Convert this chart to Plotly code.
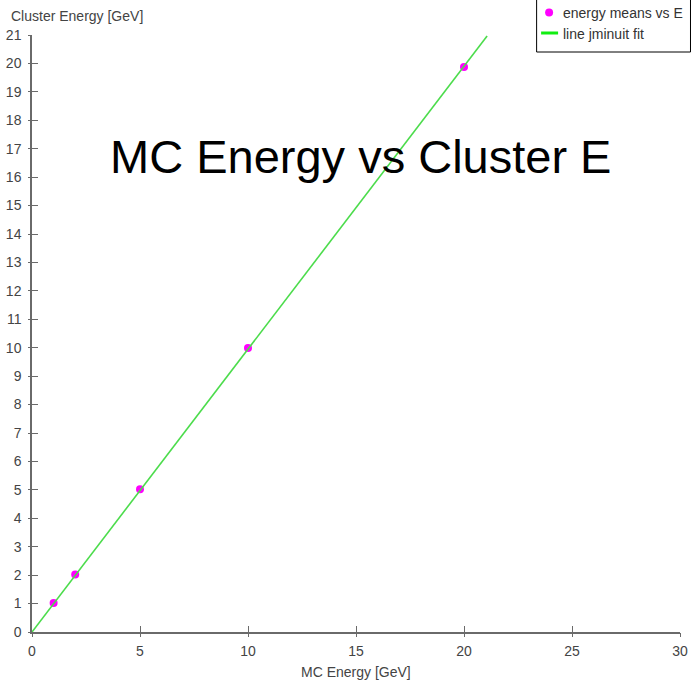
import plotly.graph_objects as go

# Mean reconstructed cluster energy at each generated MC energy
mc_energy = [1, 2, 5, 10, 20]
cluster_mean = [1.02, 2.02, 5.02, 9.99, 19.87]

# Straight-line fit result (jminuit)
fit_intercept = 0.0
fit_slope = 0.995
fit_x = [0.0, 21.07]
fit_y = [fit_intercept + fit_slope * x for x in fit_x]

x_ticks = [0, 5, 10, 15, 20, 25, 30]
y_ticks = list(range(0, 22))

series_names = ["energy means vs E", "line jminuit fit"]

W, H = 692, 685
M_L, M_R, M_T, M_B = 31.5, 12, 35, 53
PLOT_W = W - M_L - M_R
PLOT_H = H - M_T - M_B


def fx(px):
    """Page pixel column -> paper x."""
    return (px - M_L) / PLOT_W


def fy(py):
    """Page pixel row -> paper y."""
    return (H - M_B - py) / PLOT_H


axis_grey = "#6a6a6a"
label_grey = "#444444"
point_colour = "#ff00ff"
fit_colour = "#4cdc4c"
font_family = "Liberation Sans, Arial, sans-serif"

fig = go.Figure()
fig.add_trace(go.Scatter(
    x=mc_energy, y=cluster_mean, mode="markers", name=series_names[0],
    marker=dict(color=point_colour, size=8), showlegend=False,
))
# fit line drawn over the points
fig.add_trace(go.Scatter(
    x=fit_x, y=fit_y, mode="lines", name=series_names[1],
    line=dict(color=fit_colour, width=1.6), showlegend=False,
))
# empty trace on overlaid axes: draws the outer half of the tick marks
fig.add_trace(go.Scatter(x=[None], y=[None], xaxis="x2", yaxis="y2",
                         showlegend=False, hoverinfo="skip"))

common = dict(showgrid=False, zeroline=False, linecolor=axis_grey, tickcolor=axis_grey,
              tickfont=dict(family=font_family, size=14, color=label_grey))

# hand-drawn legend box in the top-right corner
legend_shapes = [
    dict(type="rect", xref="paper", yref="paper",
         x0=fx(536.5), x1=fx(690.5), y0=fy(52), y1=fy(-2),
         line=dict(color="black", width=1), fillcolor="white", layer="above"),
    dict(type="circle", xref="paper", yref="paper",
         x0=fx(545), x1=fx(553), y0=fy(16.5), y1=fy(8.5),
         line=dict(color=point_colour, width=0), fillcolor=point_colour, layer="above"),
    dict(type="line", xref="paper", yref="paper",
         x0=fx(541), x1=fx(558), y0=fy(33), y1=fy(33),
         line=dict(color="#11ee11", width=3), layer="above"),
]
legend_texts = [
    dict(text=series_names[0], xref="paper", yref="paper", x=fx(561), y=fy(13),
         xanchor="left", yanchor="middle", showarrow=False,
         font=dict(family=font_family, size=14, color="#333333")),
    dict(text=series_names[1], xref="paper", yref="paper", x=fx(561), y=fy(34),
         xanchor="left", yanchor="middle", showarrow=False,
         font=dict(family=font_family, size=14, color="#333333")),
]

fig.update_layout(
    width=W, height=H,
    margin=dict(l=M_L, r=M_R, t=M_T, b=M_B, autoexpand=False),
    paper_bgcolor="white", plot_bgcolor="white",
    font=dict(family=font_family),
    showlegend=False,
    xaxis=dict(range=[0, 30], tickvals=x_ticks, ticks="inside", ticklen=6,
               ticklabelstandoff=5, showline=True, linewidth=1.5, **common),
    yaxis=dict(range=[0, 21], tickvals=y_ticks, ticks="inside", ticklen=6,
               ticklabelstandoff=6, showline=True, linewidth=1.5, **common),
    xaxis2=dict(range=[0, 30], tickvals=x_ticks, ticks="outside", ticklen=4,
                overlaying="x", anchor="y2", showticklabels=False, showline=False,
                showgrid=False, zeroline=False, tickcolor=axis_grey),
    yaxis2=dict(range=[0, 21], tickvals=y_ticks, ticks="outside", ticklen=3,
                overlaying="y", anchor="x2", showticklabels=False, showline=False,
                showgrid=False, zeroline=False, tickcolor=axis_grey),
    shapes=legend_shapes,
    annotations=[
        dict(text="MC Energy vs Cluster E", xref="paper", yref="paper",
             x=fx(360), y=fy(156), xanchor="center", yanchor="middle", showarrow=False,
             font=dict(family=font_family, size=47, color="black")),
        dict(text="Cluster Energy [GeV]", xref="paper", yref="paper",
             x=fx(8), y=fy(16), xanchor="left", yanchor="middle", showarrow=False,
             font=dict(family=font_family, size=14, color=label_grey)),
        dict(text="MC Energy [GeV]", xref="paper", yref="paper",
             x=fx(356), y=fy(672), xanchor="center", yanchor="middle", showarrow=False,
             font=dict(family=font_family, size=14, color=label_grey)),
    ] + legend_texts,
)

fig.write_html("out.html")
